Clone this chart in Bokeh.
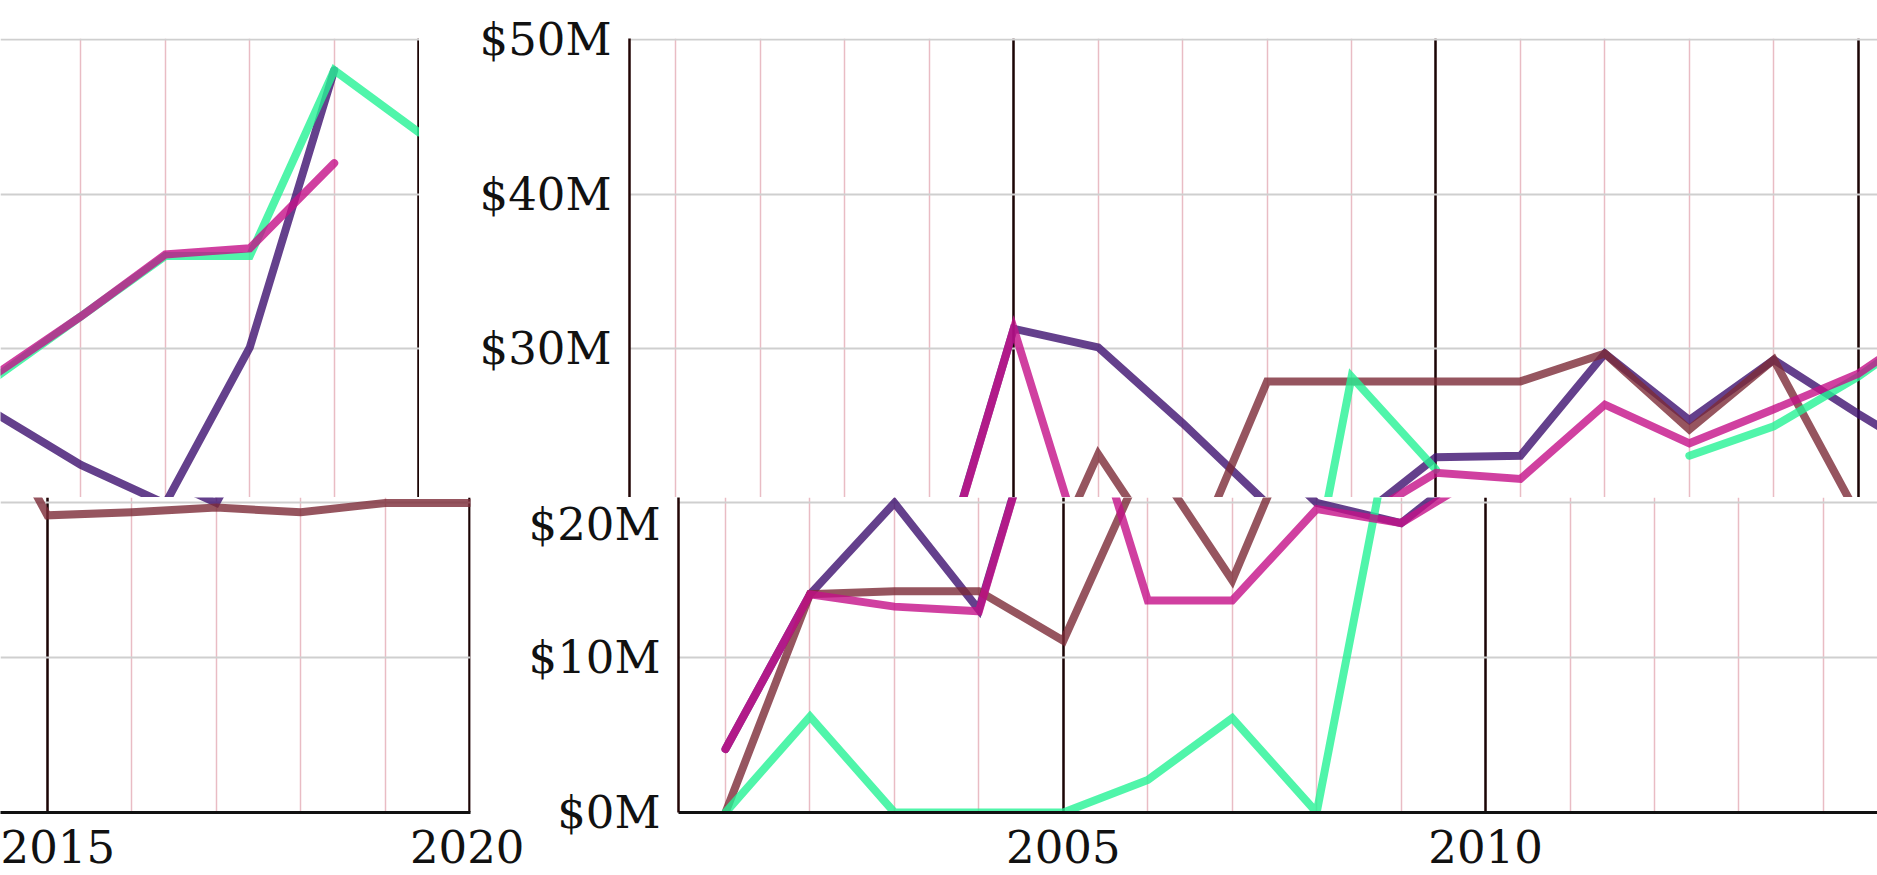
import numpy as np
from bokeh.plotting import figure
from bokeh.layouts import column, row
from bokeh.models import SingleIntervalTicker, PrintfTickFormatter, Range1d, ColumnDataSource
from bokeh.embed import file_html
from bokeh.resources import INLINE

# ---- data (values in $ millions) ----
years = list(range(2001, 2021))
purple = [4.1, 14.1, 20.0, 13.1, 31.3, 30.1, 25.2, 20.0, 18.7, 23.0,
          23.1, 29.7, 25.4, 29.3, 25.8, 22.5, 20.0, 30.1, 48.0, np.nan]
brown = [0.0, 14.1, 14.3, 14.3, 11.1, 23.2, 15.0, 27.9, 27.9, 27.9,
         27.9, 29.7, 24.8, 29.3, 19.2, 19.4, 19.7, 19.4, 20.0, 20.0]
green = [0.0, 6.2, 0.0, 0.0, 0.0, 2.1, 6.1, 0.0, 28.2, 22.2,
         np.nan, np.nan, 23.1, 25.0, 28.2, 32.1, 36.0, 36.0, 48.0, 44.0]
pink = [4.1, 14.1, 13.3, 13.0, 31.3, 13.7, 13.7, 19.6, 18.7, 22.0,
        21.6, 26.4, 23.9, 26.1, 28.4, 32.1, 36.1, 36.5, 42.0, np.nan]

series_names = ["purple", "brown", "green", "pink"]
series_colors = ["#3d106f", "#7c2a37", "#24f295", "#c41088"]

source = ColumnDataSource(dict(year=years, purple=purple, brown=brown, green=green, pink=pink))

FONT = "DejaVu Serif"


def make(xr, yr, width, height, left, right, top, bottom, show_x, show_y):
    p = figure(width=width, height=height,
               x_range=Range1d(*xr), y_range=Range1d(*yr),
               output_backend="svg", toolbar_location=None,
               x_axis_location="below" if show_x else None,
               y_axis_location="left" if show_y else None,
               min_border_left=left, min_border_right=right,
               min_border_top=top, min_border_bottom=bottom)
    p.outline_line_color = None
    p.background_fill_color = "white"
    p.border_fill_color = "white"
    xt = SingleIntervalTicker(interval=5, num_minor_ticks=5)
    yt = SingleIntervalTicker(interval=10, num_minor_ticks=0)
    p.xgrid.ticker = xt
    p.ygrid.ticker = yt
    p.xgrid.grid_line_color = "#1a0505"
    p.xgrid.grid_line_width = 2.5
    p.xgrid.minor_grid_line_color = "#e9bcc4"
    p.xgrid.minor_grid_line_width = 1.5
    p.ygrid.grid_line_color = "#cfcfcf"
    p.ygrid.grid_line_width = 2
    if show_x:
        ax = p.xaxis[0]
        ax.ticker = xt
        ax.axis_line_color = "#111111"
        ax.axis_line_width = 3
        ax.major_tick_line_color = None
        ax.minor_tick_line_color = None
        ax.major_label_text_font = FONT
        ax.major_label_text_font_size = "45px"
        ax.major_label_text_color = "#111111"
        ax.major_label_standoff = 11
    if show_y:
        ax = p.yaxis[0]
        ax.ticker = yt
        ax.formatter = PrintfTickFormatter(format="$%dM")
        ax.axis_line_color = "#220505"
        ax.axis_line_width = 2.5
        ax.major_tick_line_color = None
        ax.minor_tick_line_color = None
        ax.major_label_text_font = FONT
        ax.major_label_text_font_size = "45px"
        ax.major_label_text_color = "#111111"
        ax.major_label_standoff = 12
    for name, color in zip(series_names, series_colors):
        p.line("year", name, source=source, line_color=color, line_width=8,
               line_alpha=0.8, line_join="miter", line_cap="round")
    return p


# top band (shifted left)
tl = make((2015.048, 2020.01), (20.40, 50.05), 419, 497, 0, 0, 38, 0, False, False)
tr = make((2000.45, 2015.228), (20.40, 50.05), 1458, 497, 210, 0, 38, 0, False, True)
# bottom band
bl = make((2014.445, 2020.01), (0, 20.35), 524, 378, 0, 54, 0, 63, True, False)
br = make((2000.443, 2014.641), (0, 20.35), 1353, 378, 154, 0, 0, 63, True, True)

layout = column(row(tl, tr), row(bl, br))
p = layout
open("out.html", "w").write(file_html(p, INLINE))
